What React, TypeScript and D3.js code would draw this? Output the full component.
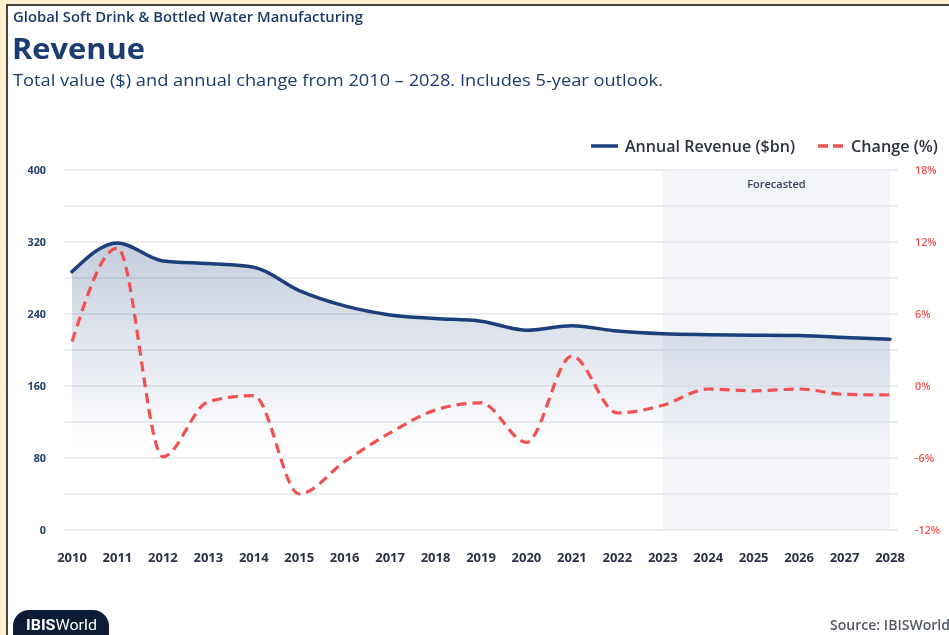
import React from "react";
import * as d3 from "d3";

const years = [2010, 2011, 2012, 2013, 2014, 2015, 2016, 2017, 2018, 2019, 2020, 2021, 2022, 2023, 2024, 2025, 2026, 2027, 2028];
const revenue = [287, 319, 299, 296, 292, 266, 249, 239, 235, 232, 222, 227, 221, 218, 217, 216.5, 216, 214, 212];
const change = [3.7, 11.5, -5.9, -1.3, -0.8, -9.0, -6.3, -3.9, -2.0, -1.4, -4.7, 2.5, -2.25, -1.6, -0.25, -0.4, -0.25, -0.7, -0.75];
const leftTicks = [0, 80, 160, 240, 320, 400];
const rightTicks = [-12, -6, 0, 6, 12, 18];
const forecastStart = 2023;

const W = 949;
const H = 635;
const NAVY = "#1c3f7c";
const RED = "#f05252";
const FONT = "'Open Sans', 'Noto Sans', sans-serif";

export default function App() {
  const x = d3.scaleLinear().domain([2010, 2028]).range([72, 890]);
  const yL = d3.scaleLinear().domain([0, 400]).range([530, 170]);
  const yR = d3.scaleLinear().domain([-12, 18]).range([530, 170]);

  const line = d3
    .line<number>()
    .x((_, i) => x(years[i]))
    .y((d) => yL(d))
    .curve(d3.curveMonotoneX);
  const area = d3
    .area<number>()
    .x((_, i) => x(years[i]))
    .y0(yL(0))
    .y1((d) => yL(d))
    .curve(d3.curveMonotoneX);
  const chLine = d3
    .line<number>()
    .x((_, i) => x(years[i]))
    .y((d) => yR(d))
    .curve(d3.curveMonotoneX);

  const grid = d3.range(0, 401, 40);

  return (
    <div style={{ position: "fixed", left: 0, top: 0, width: W, height: H }}>
      <svg width={W} height={H} style={{ display: "block" }} fontFamily={FONT}>
        <defs>
          <linearGradient id="revFill" x1="0" x2="0" y1={yL(320)} y2={yL(90)} gradientUnits="userSpaceOnUse">
            <stop offset="0" stopColor="#1c3f7c" stopOpacity={0.26} />
            <stop offset="1" stopColor="#1c3f7c" stopOpacity={0} />
          </linearGradient>
        </defs>
        <rect x={0} y={0} width={W} height={H} fill="#fdf0cc" />
        <rect x={7} y={5} width={W} height={H} fill="#ffffff" stroke="#1a1a1a" strokeWidth={1.6} />

        <text x={13} y={22} fontSize={13.6} fontWeight={600} fill="#1e3a6a" textLength={350} lengthAdjust="spacingAndGlyphs">
          Global Soft Drink &amp; Bottled Water Manufacturing
        </text>
        <text x={12} y={59} fontSize={29} fontWeight={700} fill="#1a3c72" textLength={133} lengthAdjust="spacingAndGlyphs">
          Revenue
        </text>
        <text x={13} y={86} fontSize={17} fill="#1e3a6a" textLength={650} lengthAdjust="spacingAndGlyphs">
          Total value ($) and annual change from 2010 – 2028. Includes 5-year outlook.
        </text>

        {/* legend */}
        <line x1={591} x2={618} y1={146} y2={146} stroke={NAVY} strokeWidth={3.5} />
        <text x={625} y={151.5} fontSize={15.8} fontWeight={600} fill="#2e3140" textLength={170} lengthAdjust="spacingAndGlyphs">
          Annual Revenue ($bn)
        </text>
        <line x1={818} x2={844} y1={146} y2={146} stroke={RED} strokeWidth={3.5} strokeDasharray="10,5" />
        <text x={851} y={151.5} fontSize={15.8} fontWeight={600} fill="#2e3140" textLength={87} lengthAdjust="spacingAndGlyphs">
          Change (%)
        </text>

        {/* forecast band */}
        <rect x={x(forecastStart)} y={170} width={x(2028) - x(forecastStart)} height={360} fill="#f3f5f9" />
        <text x={(x(forecastStart) + x(2028)) / 2} y={188} textAnchor="middle" fontSize={11} fontWeight={600} fill="#3b4256">
          Forecasted
        </text>

        {/* grid */}
        {grid.map((g) => (
          <line key={g} x1={64} x2={898} y1={yL(g)} y2={yL(g)} stroke="#e6e7eb" strokeWidth={1.3} />
        ))}

        {/* left axis */}
        {leftTicks.map((t) => (
          <text key={t} x={46} y={yL(t) + 4} textAnchor="end" fontSize={10.8} fontWeight={700} fill="#24406e">
            {t}
          </text>
        ))}
        {/* right axis */}
        {rightTicks.map((t) => (
          <text key={t} x={915} y={yR(t) + 4} fontSize={10.8} fontWeight={600} fill={RED}>
            {t}%
          </text>
        ))}
        {/* x axis */}
        {years.map((yv) => (
          <text key={yv} x={x(yv)} y={562} textAnchor="middle" fontSize={13} fontWeight={700} fill="#2b3045">
            {yv}
          </text>
        ))}

        {/* series */}
        <path d={area(revenue) || ""} fill="url(#revFill)" />
        <path d={line(revenue) || ""} fill="none" stroke={NAVY} strokeWidth={3.5} strokeLinecap="round" />
        <path d={chLine(change) || ""} fill="none" stroke={RED} strokeWidth={3.2} strokeDasharray="10,6" />

        {/* footer */}
        <rect x={13} y={610} width={96} height={40} rx={16} fill="#0e1c36" />
        <text x={26} y={630} fontSize={14} fill="#ffffff" fontFamily="Roboto, sans-serif" textLength={71} lengthAdjust="spacingAndGlyphs">
          <tspan fontWeight={700}>IBIS</tspan>
          <tspan>World</tspan>
        </text>
        <text x={950} y={630} textAnchor="end" fontSize={13.5} fontWeight={600} fill="#555a66" textLength={120} lengthAdjust="spacingAndGlyphs">
          Source: IBISWorld
        </text>
      </svg>
    </div>
  );
}
